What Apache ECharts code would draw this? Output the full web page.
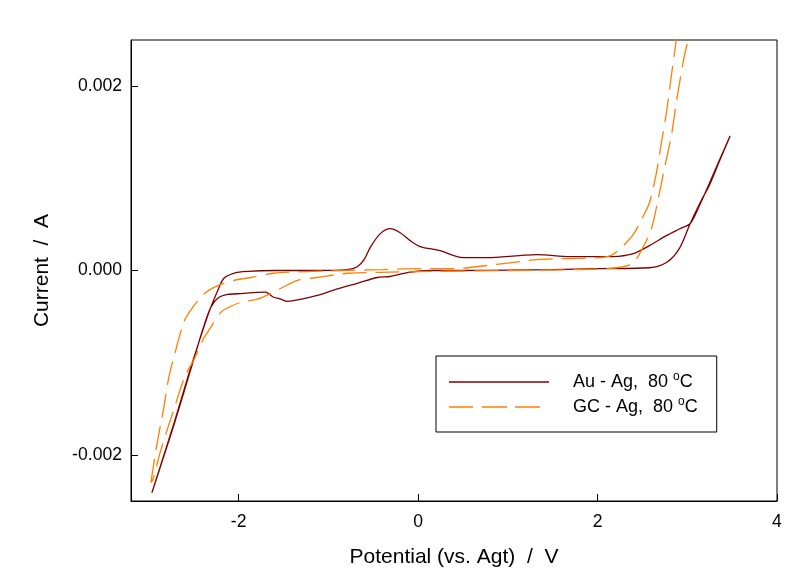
<!DOCTYPE html>
<html>
<head>
<meta charset="utf-8">
<script src="https://cdn.jsdelivr.net/npm/echarts@6/dist/echarts.min.js"></script>
<style>html,body{margin:0;padding:0;background:#fff;}#c{width:809px;height:577px;}</style>
</head>
<body>
<div id="c"></div>
<script>
// Au - Ag, 80 °C : potential (V) and current (mA), full loop
var auV = [-2.967, -2.72, -2.533, -2.40, -2.311, -2.233, -2.167, -2.056, -1.9, -1.6, -1.2, -0.789, -0.678, -0.6, -0.533, -0.422, -0.311, -0.2, -0.089, 0.022, 0.244, 0.5, 0.767, 1.133, 1.322, 1.689, 2.022, 2.167, 2.389, 2.578, 2.767, 2.911, 3.033, 3.133, 3.244, 3.36, 3.478,
           3.36, 3.244, 3.167, 3.033, 2.911, 2.767, 2.578, 2.022, 1.5, 1.0, 0.5, 0.133, -0.1, -0.311, -0.456, -0.678, -0.9, -1.122, -1.3, -1.456, -1.533, -1.611, -1.7, -1.789, -1.978, -2.122, -2.233, -2.311, -2.4, -2.533, -2.72, -2.967];
var auI = [-2.41, -1.654, -1.049, -0.649, -0.40, -0.216, -0.087, -0.03, -0.01, 0, 0, 0.01, 0.04, 0.12, 0.25, 0.40, 0.454, 0.41, 0.324, 0.26, 0.216, 0.14, 0.14, 0.162, 0.173, 0.151, 0.15, 0.151, 0.18, 0.27, 0.378, 0.45, 0.51, 0.70, 0.94, 1.2, 1.46,
           1.19, 0.92, 0.78, 0.51, 0.238, 0.086, 0.03, 0.02, 0.01, 0.005, 0, 0, -0.02, -0.065, -0.076, -0.14, -0.2, -0.27, -0.31, -0.335, -0.31, -0.29, -0.235, -0.238, -0.25, -0.26, -0.30, -0.40, -0.64, -1.07, -1.67, -2.41];
// GC - Ag, 80 °C : potential (V) and current (mA), full loop (vertex above the plot)
var gcV = [-2.978, -2.922, -2.833, -2.778, -2.722, -2.611, -2.533, -2.422, -2.333, -2.2, -2.056, -1.867, -1.611, -1.344, -0.833, -0.4, 0.02, 0.39, 0.767, 1.133, 1.32, 1.689, 2.02, 2.167, 2.389, 2.5, 2.578, 2.656, 2.711, 2.767, 2.822, 2.878, 2.948,
           3.13, 3.011, 2.967, 2.889, 2.822, 2.744, 2.667, 2.6, 2.5, 2.389, 2.211, 1.8, 1.0, 0.133, -0.422, -0.789, -1.122, -1.344, -1.533, -1.644, -1.789, -1.978, -2.111, -2.2, -2.311, -2.389, -2.5, -2.6, -2.72, -2.867, -2.956, -2.978];
var gcI = [-2.30, -1.946, -1.48, -1.157, -0.94, -0.56, -0.43, -0.29, -0.216, -0.151, -0.108, -0.076, -0.03, -0.015, 0, 0.01, 0.02, 0.02, 0.054, 0.097, 0.119, 0.13, 0.14, 0.17, 0.378, 0.573, 0.735, 1.06, 1.384, 1.708, 2.108, 2.508, 3.0,
           3.0, 2.508, 2.324, 1.892, 1.459, 1.103, 0.735, 0.454, 0.238, 0.076, 0.03, 0.01, 0, -0.01, -0.02, -0.03, -0.076, -0.108, -0.195, -0.25, -0.31, -0.346, -0.4, -0.454, -0.616, -0.735, -0.97, -1.15, -1.5, -1.946, -2.27, -2.30];
var xTicks = [-2, 0, 2, 4];
var yTicks = [-0.002, 0, 0.002];
var seriesNames = ['Au - Ag,  80 {sup|o}C', 'GC - Ag,  80 {sup|o}C'];

function pairs(v, i) { return v.map(function (x, k) { return [x, i[k] / 1000]; }); }

// legend sample icons (100 x 14 box): thin solid line / dashed line, tiny corner marks keep the box size
var ICON_SOLID = 'path://M0,0h0.01v0.01h-0.01z M0,6.35h100v1.3h-100z M99.99,13.99h0.01v0.01h-0.01z';
var ICON_DASH = 'path://M0,0h0.01v0.01h-0.01z M0,6.35h24v1.3h-24z M33,6.35h25v1.3h-25z M66,6.35h25v1.3h-25z M99.99,13.99h0.01v0.01h-0.01z';

var FONT = 'Liberation Sans, Arial, sans-serif';
var chart = echarts.init(document.getElementById('c'));
chart.setOption({
  backgroundColor: '#fff',
  animation: false,
  grid: { left: 131, right: 32, top: 40, bottom: 76, show: true, borderColor: '#000', borderWidth: 1, backgroundColor: 'transparent' },
  legend: {
    orient: 'vertical', left: 436, top: 356,
    itemWidth: 100, itemHeight: 14, itemGap: 4,
    padding: [15, 19, 15, 13],
    borderColor: '#000', borderWidth: 1,
    selectedMode: false,
    formatter: function (name) { return name; },
    textStyle: {
      fontFamily: FONT, fontSize: 18, color: '#000', lineHeight: 20, padding: [0, 0, 0, 19],
      rich: { sup: { fontFamily: FONT, fontSize: 12, color: '#000', padding: [0, 0, 10, 0] } }
    },
    data: [{ name: seriesNames[0], icon: ICON_SOLID }, { name: seriesNames[1], icon: ICON_DASH }]
  },
  xAxis: {
    type: 'value', min: -3.2, max: 4,
    name: 'Potential (vs. Agt)  /  V', nameLocation: 'middle', nameGap: 46,
    nameTextStyle: { fontFamily: FONT, fontSize: 21, color: '#000' },
    axisLine: { show: true, onZero: false, lineStyle: { color: '#000', width: 1 } },
    axisTick: { show: true, inside: true, length: 7, customValues: xTicks, lineStyle: { color: '#000' } },
    axisLabel: { customValues: xTicks, margin: 12, fontFamily: FONT, fontSize: 17.6, color: '#000',
      formatter: function (v) { return String(v); } },
    splitLine: { show: false }
  },
  yAxis: {
    type: 'value', min: -0.0025, max: 0.0025,
    name: 'Current  /  A', nameLocation: 'middle', nameGap: 78,
    nameTextStyle: { fontFamily: FONT, fontSize: 21, color: '#000' },
    axisLine: { show: true, onZero: false, lineStyle: { color: '#000', width: 1 } },
    axisTick: { show: true, inside: true, length: 7, customValues: yTicks, lineStyle: { color: '#000' } },
    axisLabel: { customValues: yTicks, margin: 9, fontFamily: FONT, fontSize: 17.6, color: '#000',
      formatter: function (v) { return (Math.abs(v) < 1e-12 ? 0 : v).toFixed(3); } },
    splitLine: { show: false }
  },
  series: [
    { name: seriesNames[0], type: 'line', data: pairs(auV, auI), showSymbol: false, symbol: 'none', smooth: 0.3, clip: true,
      lineStyle: { color: '#800000', width: 1.3 }, itemStyle: { color: '#800000' } },
    { name: seriesNames[1], type: 'line', data: pairs(gcV, gcI), showSymbol: false, symbol: 'none', smooth: 0.3, clip: true,
      lineStyle: { color: '#FF8000', width: 1.3, type: [24, 9] }, itemStyle: { color: '#FF8000' } }
  ]
});
</script>
</body>
</html>
